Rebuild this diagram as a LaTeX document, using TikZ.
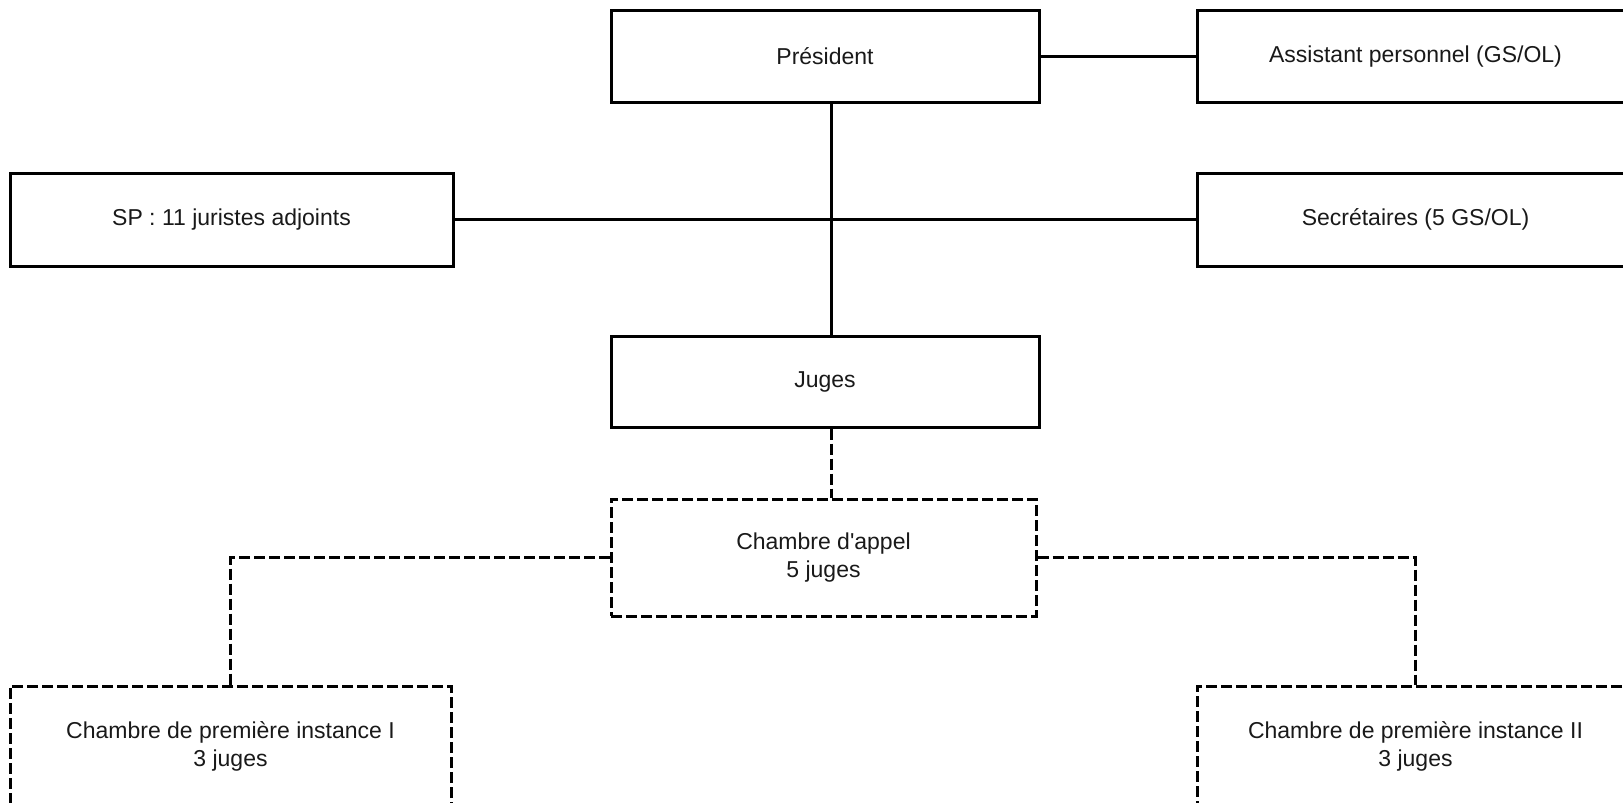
\documentclass[tikz,border=0pt]{standalone}
\usepackage{fontspec}
\setmainfont{Liberation Sans}[Ligatures=TeXOff]
\begin{document}
\begin{tikzpicture}[x=1pt,y=-1pt,
  box/.style={draw=black, line width=3pt, inner sep=0pt, align=center,
    font=\fontsize{23}{28}\selectfont, text=black!90},
  dbox/.style={box, dash pattern=on 11pt off 4pt},
  link/.style={draw=black, line width=3pt},
  dlink/.style={link, dash pattern=on 11pt off 4pt}]
\clip (0,0) rectangle (1623,803);
\coordinate (vx) at (831,0);
\node[box, minimum width=428pt, minimum height=92pt] (pres) at (825,56.5) {Président};
\node[box, minimum width=437pt, minimum height=92pt] (asst) at (1415.5,56.5) {Assistant personnel (GS/OL)};
\node[box, minimum width=443pt, minimum height=93pt] (sp) at (231.5,219.5) {SP : 11 juristes adjoints};
\node[box, minimum width=437pt, minimum height=93pt] (sec) at (1415.5,219.5) {Secrétaires (5 GS/OL)};
\node[box, minimum width=428pt, minimum height=91pt] (juges) at (825,381.5) {Juges};
\node[dbox, minimum width=425pt, minimum height=117pt] (appel) at (823.5,557.5) {Chambre d'appel\\5 juges};
\node[dbox, minimum width=441pt, minimum height=121pt] (c1) at (230.5,746.5) {Chambre de première instance I\\3 juges};
\node[dbox, minimum width=437pt, minimum height=121pt] (c2) at (1415.5,746.5) {Chambre de première instance II\\3 juges};
\draw[link] (pres.east) -- (asst.west);
\draw[link] (sp.east) -- (sec.west);
\draw[link] (pres.south -| vx) -- (juges.north -| vx);
\draw[dlink] (juges.south -| vx) -- (appel.north -| vx);
\draw[dlink] (appel.west) -| (c1.north);
\draw[dlink] (appel.east) -| (c2.north);
\end{tikzpicture}
\end{document}
